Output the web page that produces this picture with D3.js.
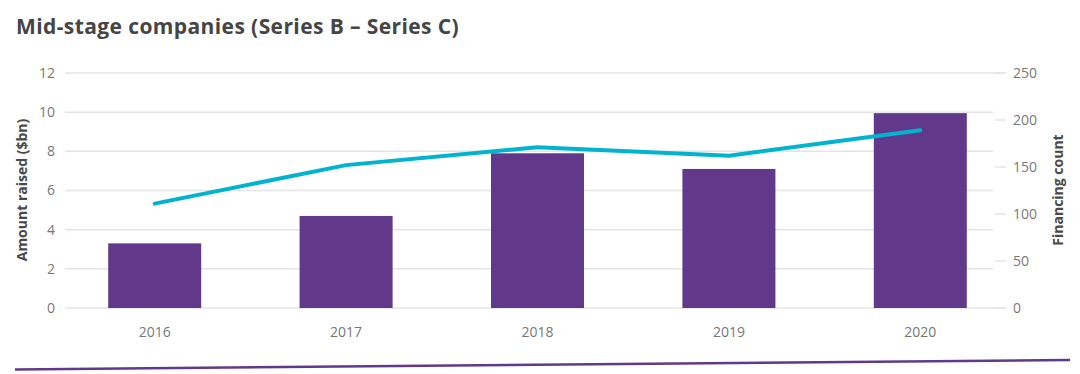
<!DOCTYPE html>
<html>
<head>
<meta charset="utf-8">
<script src="https://cdn.jsdelivr.net/npm/d3@7"></script>
<style>
  body { margin: 0; background: #fff; }
  text { font-family: "Open Sans", Lato, sans-serif; }
</style>
</head>
<body>
<div id="chart"></div>
<script>
const years = ["2016", "2017", "2018", "2019", "2020"]
const amountRaised = [3.3, 4.7, 7.9, 7.1, 9.95]
const financingCount = [111, 152, 171, 162, 189]
const leftTicks = [0, 2, 4, 6, 8, 10, 12]
const rightTicks = [0, 50, 100, 150, 200, 250]

const width = 1080, height = 374
const purple = "#62398a", cyan = "#00b4d0"

const svg = d3.select("#chart")
  .append("svg")
  .attr("width", width)
  .attr("height", height)

const x = d3.scaleBand()
  .domain(years)
  .range([59, 1016])
  .paddingInner(0.514)
  .paddingOuter(0.257)

const yLeft = d3.scaleLinear().domain([0, 12]).range([308, 73])
const yRight = d3.scaleLinear().domain([0, 250]).range([308, 73])

// gridlines for left axis
svg.append("g")
  .selectAll("line")
  .data(leftTicks)
  .enter()
  .append("line")
  .attr("x1", 65)
  .attr("x2", d => (d === 0 || d === 12) ? 1006 : 993)
  .attr("y1", d => yLeft(d))
  .attr("y2", d => yLeft(d))
  .attr("stroke", "#e4e4e4")
  .attr("stroke-width", 1.5)

// short ticks for right axis
svg.append("g")
  .selectAll("line")
  .data(rightTicks)
  .enter()
  .append("line")
  .attr("x1", 995)
  .attr("x2", 1006)
  .attr("y1", d => yRight(d))
  .attr("y2", d => yRight(d))
  .attr("stroke", "#e4e4e4")
  .attr("stroke-width", 1.5)

svg.append("g")
  .selectAll("text")
  .data(leftTicks)
  .enter()
  .append("text")
  .attr("x", 55)
  .attr("y", d => yLeft(d))
  .attr("dy", "0.35em")
  .attr("text-anchor", "end")
  .attr("font-size", 14)
  .attr("fill", "#777")
  .text(d => d)

svg.append("g")
  .selectAll("text")
  .data(rightTicks)
  .enter()
  .append("text")
  .attr("x", 1013)
  .attr("y", d => yRight(d))
  .attr("dy", "0.35em")
  .attr("font-size", 14)
  .attr("fill", "#777")
  .text(d => d)

// bars
svg.append("g")
  .selectAll("rect")
  .data(years)
  .enter()
  .append("rect")
  .attr("x", d => x(d))
  .attr("width", x.bandwidth())
  .attr("y", (d, i) => yLeft(amountRaised[i]))
  .attr("height", (d, i) => yLeft(0) - yLeft(amountRaised[i]))
  .attr("fill", purple)

// line
const line = d3.line()
  .x((d, i) => x(years[i]) + x.bandwidth() / 2)
  .y(d => yRight(d))

svg.append("path")
  .datum(financingCount)
  .attr("d", line)
  .attr("fill", "none")
  .attr("stroke", cyan)
  .attr("stroke-width", 4)
  .attr("stroke-linecap", "round")

// x labels
svg.append("g")
  .selectAll("text")
  .data(years)
  .enter()
  .append("text")
  .attr("x", d => x(d) + x.bandwidth() / 2)
  .attr("y", 337)
  .attr("text-anchor", "middle")
  .attr("font-size", 14)
  .attr("fill", "#777")
  .text(d => d)

// axis titles
svg.append("text")
  .attr("transform", "translate(27,190) rotate(-90)")
  .attr("text-anchor", "middle")
  .attr("font-size", 14)
  .attr("font-weight", "bold")
  .attr("fill", "#4a4a4a")
  .text("Amount raised ($bn)")

svg.append("text")
  .attr("transform", "translate(1063,190) rotate(-90)")
  .attr("text-anchor", "middle")
  .attr("font-size", 14)
  .attr("font-weight", "bold")
  .attr("fill", "#4a4a4a")
  .text("Financing count")

svg.append("text")
  .attr("x", 16)
  .attr("y", 34)
  .attr("font-size", 21)
  .attr("font-weight", "bold")
  .attr("letter-spacing", 0.4)
  .attr("fill", "#454545")
  .text("Mid-stage companies (Series B – Series C)")

// bottom rule
svg.append("line")
  .attr("x1", 15)
  .attr("y1", 369.5)
  .attr("x2", 1070)
  .attr("y2", 360)
  .attr("stroke", purple)
  .attr("stroke-width", 2.5)
</script>
</body>
</html>
